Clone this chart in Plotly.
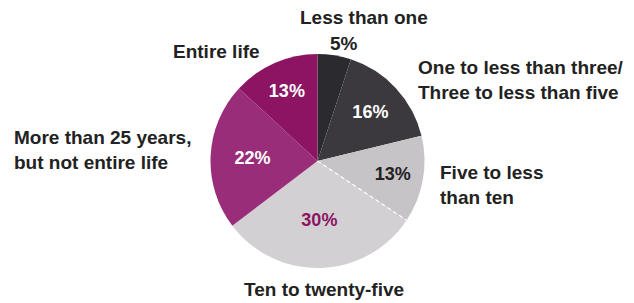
import plotly.graph_objects as go
import math

categories = ["Less than one",
              "One to less than three/<br>Three to less than five",
              "Five to less<br>than ten",
              "Ten to twenty-five",
              "More than 25 years,<br>but not entire life",
              "Entire life"]
values = [5, 16, 13, 30, 22, 13]
colors = ["#2b2a2e", "#3b393d", "#c6c4c6", "#d2d0d2", "#9a2d79", "#8c1463"]
pct_colors = ["#222222", "#ffffff", "#222222", "#8c1463", "#ffffff", "#ffffff"]

W, H = 634, 303
cx, cy, R = 317.5, 161, 107  # pixel centre/radius of pie

FONT = "Liberation Sans, Arial, sans-serif"

fig = go.Figure()
fig.add_trace(go.Pie(
    labels=categories,
    values=values,
    sort=False,
    direction="clockwise",
    rotation=0,
    marker=dict(colors=colors, line=dict(width=0)),
    texttemplate=["", "%{value}%", "%{value}%", "%{value}%", "%{value}%", "%{value}%"],
    textposition="inside",
    insidetextorientation="horizontal",
    textfont=dict(family=FONT, size=18, color=pct_colors, weight="bold"),
    hoverinfo="label+value",
    showlegend=False,
    domain=dict(x=[(cx - R) / W, (cx + R) / W],
                y=[(H - cy - R) / H, (H - cy + R) / H]),
))

# dashed white divider between "Five to less than ten" and "Ten to twenty-five"
tot = sum(values)
ang = 2 * math.pi * sum(values[:3]) / tot
x1 = cx + R * math.sin(ang)
y1 = cy - R * math.cos(ang)
fig.add_shape(type="line", xref="paper", yref="paper",
              x0=cx / W, y0=1 - cy / H, x1=x1 / W, y1=1 - y1 / H,
              line=dict(color="white", width=1.2, dash="4px,3px"))

labels_pos = [
    # text, x, y (pixel), xanchor
    (categories[0], 364, 17, "center"),
    (f"{values[0]}%", 344, 43, "center"),
    (categories[1], 416, 80, "left"),
    (categories[2], 438, 185, "left"),
    (categories[3], 324, 289, "center"),
    (categories[4], 12, 150, "left"),
    (categories[5], 262, 52, "right"),
]
for txt, x, y, xa in labels_pos:
    fig.add_annotation(text=txt, x=x / W, y=1 - y / H, xref="paper", yref="paper",
                       xanchor=xa, yanchor="middle", showarrow=False,
                       align=xa,
                       font=dict(family=FONT, size=19, color="#222222", weight="bold"))

fig.update_layout(width=W, height=H, margin=dict(l=0, r=0, t=0, b=0),
                  paper_bgcolor="white", plot_bgcolor="white",
                  font=dict(family=FONT, size=19, color="#222222"))
fig.write_html("out.html", config={"displayModeBar": False},
               post_script="document.body.style.margin='0';")
